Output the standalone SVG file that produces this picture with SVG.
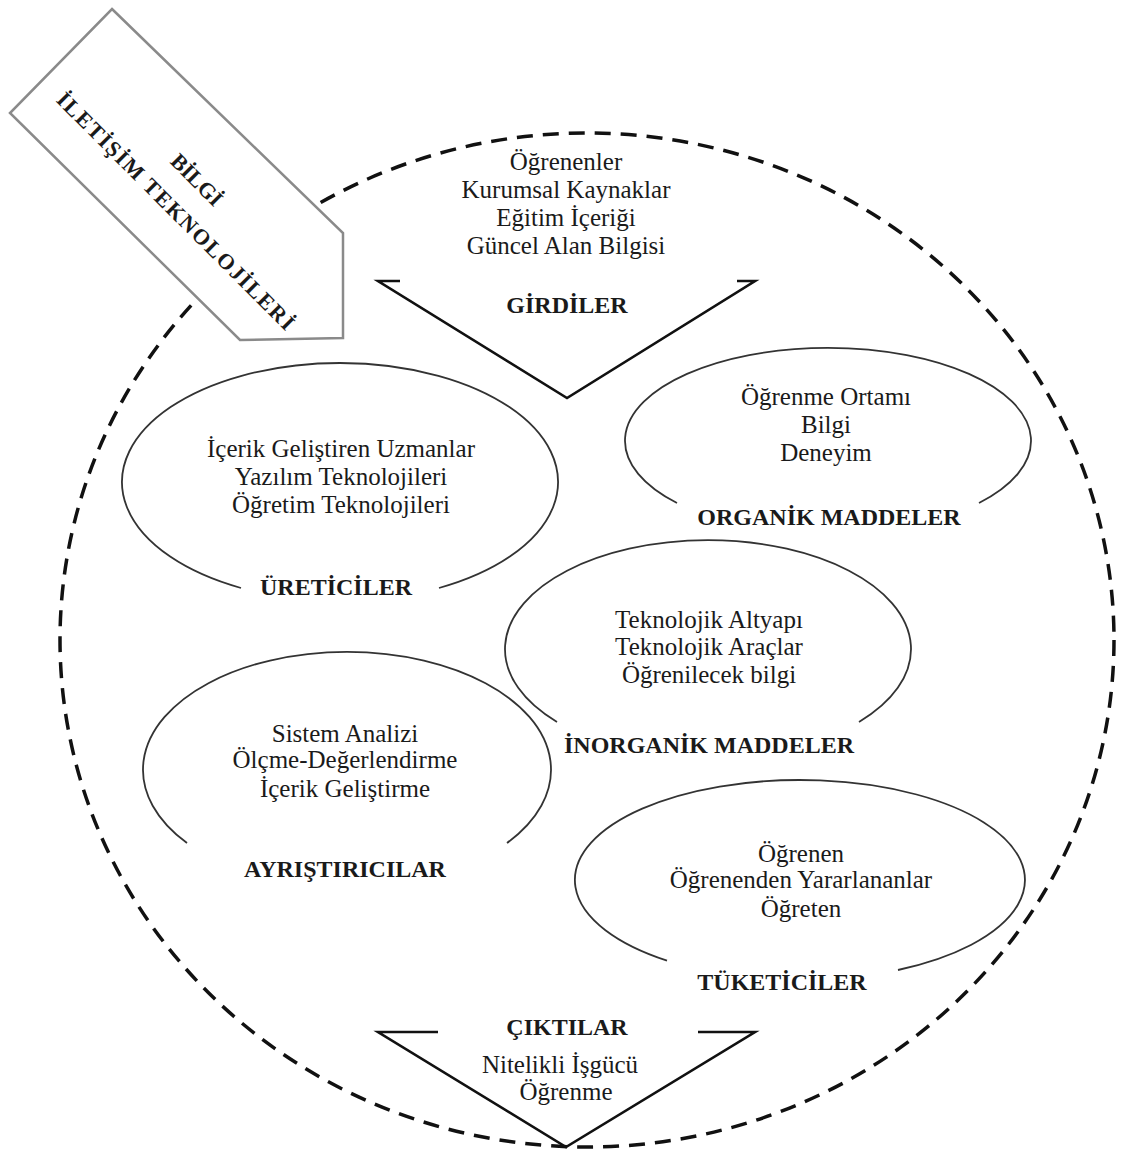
<svg xmlns="http://www.w3.org/2000/svg" width="1122" height="1153" viewBox="0 0 1122 1153">
<style>
  text { font-family: "Liberation Serif", "Times New Roman", serif; fill: #1a1a1a; text-anchor: middle; }
  .t { font-size: 25px; }
  .b { font-size: 24px; font-weight: bold; }
  .ar { font-size: 22px; font-weight: bold; }
  .ell { fill: none; stroke: #333; stroke-width: 1.8; }
  .vee { fill: none; stroke: #111; stroke-width: 2.6; stroke-linejoin: miter; }
</style>
<rect width="1122" height="1153" fill="#ffffff"/>

<g id="boundary">
  <ellipse cx="587" cy="640" rx="527" ry="507" fill="none" stroke="#111" stroke-width="3.5" stroke-dasharray="16 10"/>
</g>

<g id="girdiler">
  <polyline class="vee" points="400,281 378,281 567,398 755,281 737,281"/>
  <text class="t" x="566" y="170">Öğrenenler</text>
  <text class="t" x="566" y="198">Kurumsal Kaynaklar</text>
  <text class="t" x="566" y="226">Eğitim İçeriği</text>
  <text class="t" x="566" y="254">Güncel Alan Bilgisi</text>
  <text class="b" x="567" y="313">GİRDİLER</text>
</g>

<g id="ureticiler">
  <path class="ell" d="M241,588 A218,119 0 1 1 439,588"/>
  <text class="t" x="341" y="457">İçerik Geliştiren Uzmanlar</text>
  <text class="t" x="341" y="485">Yazılım Teknolojileri</text>
  <text class="t" x="341" y="513">Öğretim Teknolojileri</text>
  <text class="b" x="336" y="595">ÜRETİCİLER</text>
</g>

<g id="organik">
  <path class="ell" d="M677,503 A203,93 0 1 1 979,503"/>
  <text class="t" x="826" y="405">Öğrenme Ortamı</text>
  <text class="t" x="826" y="433">Bilgi</text>
  <text class="t" x="826" y="461">Deneyim</text>
  <text class="b" x="829" y="525">ORGANİK MADDELER</text>
</g>

<g id="inorganik">
  <path class="ell" d="M557,722 A203,109 0 1 1 859,722"/>
  <text class="t" x="709" y="628">Teknolojik Altyapı</text>
  <text class="t" x="709" y="655">Teknolojik Araçlar</text>
  <text class="t" x="709" y="683">Öğrenilecek bilgi</text>
  <text class="b" x="709" y="753">İNORGANİK MADDELER</text>
</g>

<g id="ayristiricilar">
  <path class="ell" d="M187,843 A204,118 0 1 1 507,843"/>
  <text class="t" x="345" y="742">Sistem Analizi</text>
  <text class="t" x="345" y="768">Ölçme-Değerlendirme</text>
  <text class="t" x="345" y="797">İçerik Geliştirme</text>
  <text class="b" x="345" y="877">AYRIŞTIRICILAR</text>
</g>

<g id="tuketiciler">
  <path class="ell" d="M667,960.7 A225,100 0 1 1 898,970"/>
  <text class="t" x="801" y="862">Öğrenen</text>
  <text class="t" x="801" y="888">Öğrenenden Yararlananlar</text>
  <text class="t" x="801" y="917">Öğreten</text>
  <text class="b" x="782" y="990">TÜKETİCİLER</text>
</g>

<g id="ciktilar">
  <polyline class="vee" points="438,1032 378,1032 566,1147 755,1032 698,1032"/>
  <text class="b" x="567" y="1035">ÇIKTILAR</text>
  <text class="t" x="560" y="1073">Nitelikli İşgücü</text>
  <text class="t" x="566" y="1100">Öğrenme</text>
</g>

<g id="bilgi-iletisim-teknolojileri">
  <polygon points="112,9 343,233 343,338 240,340 10,113" fill="#ffffff" stroke="#8a8a8a" stroke-width="2.5" stroke-linejoin="miter"/>
  <g transform="translate(186,195) rotate(45)">
    <text class="ar" x="-3" y="-11">BİLGİ</text>
    <text class="ar" x="4" y="26" textLength="326" lengthAdjust="spacing">İLETİŞİM TEKNOLOJİLERİ</text>
  </g>
</g>

<g id="connectors"></g>
</svg>
